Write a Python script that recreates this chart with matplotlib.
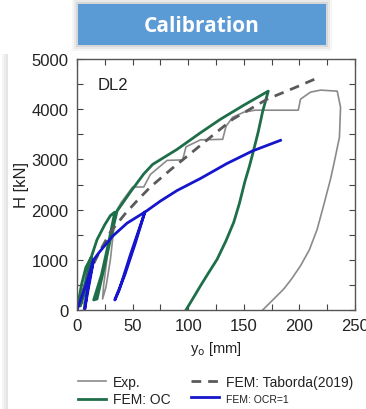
import matplotlib
matplotlib.use("Agg")
import matplotlib.pyplot as plt
from matplotlib.patches import FancyBboxPatch, Rectangle
from matplotlib.ticker import MultipleLocator

plt.rcParams['font.family'] = ['Liberation Sans', 'DejaVu Sans']

# Exp. (measured)
exp_x = [0, 4, 8, 12, 10, 7, 6, 9, 13, 18, 25, 30, 34, 33, 30, 26, 23, 24, 28, 33, 36, 40, 45, 50,
         60, 66, 81, 95, 98, 111, 131, 134, 140, 150, 160, 199, 201, 210, 219, 234, 237, 236, 231,
         228, 222, 216, 209, 201, 193, 186, 177, 167]
exp_y = [0, 500, 850, 1050, 650, 250, 0, 600, 1050, 1400, 1700, 1870, 1950, 1600, 1000, 450, 220,
         500, 1200, 1800, 2000, 2150, 2300, 2450, 2450, 2700, 2980, 2990, 3250, 3390, 3400, 3660,
         3840, 3940, 3980, 3980, 4200, 4340, 4380, 4360, 4040, 3440, 2910, 2610, 2100, 1610, 1200,
         880, 620, 420, 220, 0]

# FEM: Taborda(2019)
tab_x = [0, 10, 20, 30, 43, 55, 66, 85, 100, 126, 140, 171, 195, 216]
tab_y = [0, 700, 1150, 1550, 1910, 2200, 2450, 2810, 3080, 3550, 3800, 4200, 4420, 4620]

# FEM: OC
oc_x = [0, 4, 8, 13, 10, 6, 3, 7, 12, 18, 25, 30, 34, 28, 22, 15, 18, 24, 30, 36, 48, 60, 68,
        90, 111, 129, 150, 172, 167, 163, 158, 155, 151, 146, 141, 134, 126, 118, 111, 104, 98]
oc_y = [0, 500, 850, 1050, 700, 300, 80, 500, 1000, 1400, 1700, 1880, 1950, 1300, 700, 200, 220,
        800, 1400, 1970, 2350, 2710, 2900, 3200, 3530, 3800, 4080, 4360, 3960, 3550, 3110, 2860,
        2560, 2120, 1750, 1380, 1010, 730, 480, 220, 0]

# FEM: OCR=1
ocr_x = [0, 8, 15, 12, 9, 7, 10, 15, 20, 32, 45, 61, 52, 43, 34, 38, 48, 58, 61, 63, 75, 90,
         111, 135, 158, 183]
ocr_y = [0, 500, 1010, 700, 350, 20, 400, 1000, 1150, 1470, 1730, 1950, 1300, 700, 200, 400,
         1100, 1750, 1950, 1980, 2170, 2380, 2620, 2920, 3170, 3380]

W, H = 366, 410
fig = plt.figure(figsize=(W / 100, H / 100), dpi=100)

# faint panel shadow on the left
for i, a in enumerate([0.10, 0.18, 0.25]):
    fig.patches.append(Rectangle((2 / W + i * 2 / W, 0), 2 / W, 355 / H,
                                 transform=fig.transFigure, color='#999999', alpha=a, lw=0))

# title box with soft shadow
bx, by, bw, bh = 78 / W, 1 - 46 / H, 248 / W, 41 / H
for k, a in [(6, 0.05), (4, 0.08), (2, 0.12)]:
    fig.patches.append(FancyBboxPatch((bx - k / W, by - k / H), bw + 2 * k / W, bh + 2 * k / H,
                                      boxstyle="square,pad=0", transform=fig.transFigure,
                                      color='#555555', alpha=a, lw=0))
fig.patches.append(FancyBboxPatch((bx, by), bw, bh, boxstyle="square,pad=0",
                                  transform=fig.transFigure, color='#5b9bd5', lw=0))
fig.text(bx + bw / 2, by + bh / 2 - 1 / H, 'Calibration', color='white', fontsize=15,
         fontweight='bold', family=['Open Sans', 'DejaVu Sans'], ha='center', va='center')

ax = fig.add_axes([77 / W, 1 - 311 / H, 278 / W, 251 / H])

ax.plot(exp_x, exp_y, color='#8a8a8a', lw=1.2, label='Exp.')
ax.plot(oc_x, oc_y, color='#1f6e4a', lw=2.0, label='FEM: OC')
ax.plot(tab_x, tab_y, color='#5a5a5a', lw=2.0, dashes=(3.5, 2.5), label='FEM: Taborda(2019)')
ax.plot(ocr_x, ocr_y, color='#1515cc', lw=2.0, label='FEM: OCR=1')

ax.set_xlim(0, 250)
ax.set_ylim(0, 5000)
ax.xaxis.set_major_locator(MultipleLocator(50))
ax.xaxis.set_minor_locator(MultipleLocator(25))
ax.yaxis.set_major_locator(MultipleLocator(1000))
ax.yaxis.set_minor_locator(MultipleLocator(500))
ax.tick_params(which='both', direction='in', top=True, right=True, length=4, width=0.8,
               color='#444444', labelsize=12, labelcolor='#222222', pad=6)
for s in ax.spines.values():
    s.set_color('#555555')
    s.set_linewidth(1.0)

ax.text(0.075, 0.9, 'DL2', transform=ax.transAxes, fontsize=12, color='#222222',
        ha='left', va='center')
ax.set_xlabel('y$_\\mathrm{o}$ [mm]', fontsize=10.5, color='#222222', labelpad=4)
ax.set_ylabel('H [kN]', fontsize=12, color='#222222', labelpad=2)

leg = fig.legend(loc='upper left', bbox_to_anchor=(78 / W, 1 - 376 / H), ncol=2,
                 frameon=False, fontsize=10, handlelength=2.0, handletextpad=0.5,
                 columnspacing=1.5, labelspacing=0.25, borderpad=0, borderaxespad=0)
leg.get_texts()[3].set_fontsize(7.5)
for t in leg.get_texts():
    t.set_color('#222222')

fig.savefig('out.png', dpi=100)
